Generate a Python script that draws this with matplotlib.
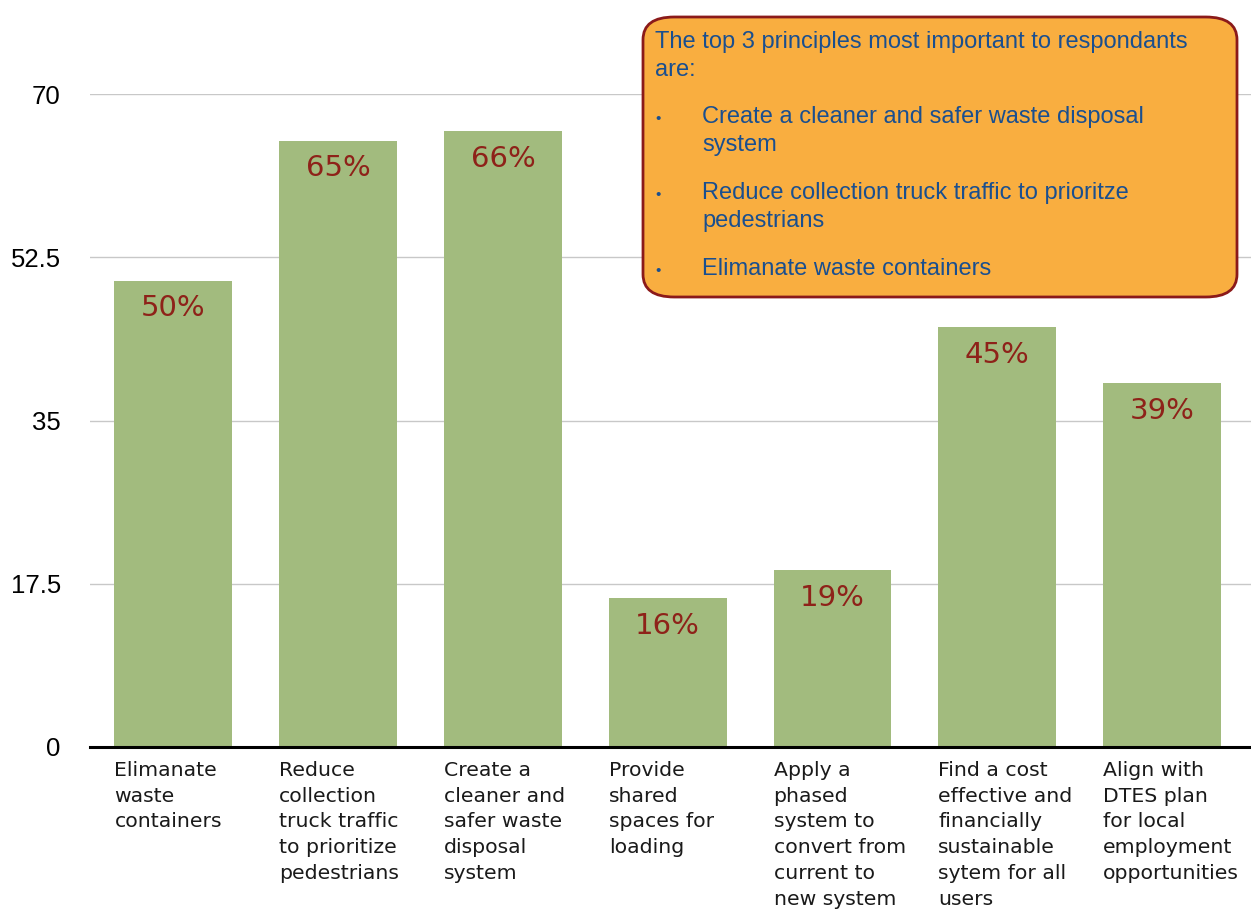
import matplotlib.pyplot as plt
from matplotlib.patches import FancyBboxPatch

# data
categories = [
    "Elimanate\nwaste\ncontainers",
    "Reduce\ncollection\ntruck traffic\nto prioritize\npedestrians",
    "Create a\ncleaner and\nsafer waste\ndisposal\nsystem",
    "Provide\nshared\nspaces for\nloading",
    "Apply a\nphased\nsystem to\nconvert from\ncurrent to\nnew system",
    "Find a cost\neffective and\nfinancially\nsustainable\nsytem for all\nusers",
    "Align with\nDTES plan\nfor local\nemployment\nopportunities",
]
values = [50, 65, 66, 16, 19, 45, 39]
y_ticks = [0, 17.5, 35, 52.5, 70]
y_tick_labels = ["0", "17.5", "35", "52.5", "70"]

note_title = "The top 3 principles most important to respondants\nare:"
note_bullets = [
    "Create a cleaner and safer waste disposal\nsystem",
    "Reduce collection truck traffic to prioritze\npedestrians",
    "Elimanate waste containers",
]

BAR_COLOR = "#A2BB7E"
PCT_COLOR = "#8E2219"
NOTE_FILL = "#F9AE40"
NOTE_EDGE = "#8B1A1A"
NOTE_TEXT = "#1A4F8F"

W, H = 1251, 910
fig = plt.figure(figsize=(W / 100, H / 100), dpi=100)
ax = fig.add_axes([90 / W, 1 - 747 / H, (W - 90) / W, (747 - 94) / H])

x = list(range(len(values)))
bar_w = 0.715
ax.bar(x, values, width=bar_w, color=BAR_COLOR, zorder=2)

ax.set_xlim(-0.506, 6.54)
ax.set_ylim(0, 70)
ax.set_yticks(y_ticks)
ax.set_yticklabels(y_tick_labels, fontsize=18.5, family="Liberation Sans")
ax.yaxis.grid(True, color="#C8C8C8", linewidth=1, zorder=0)
ax.tick_params(axis="y", length=0, pad=21)
ax.set_xticks([])
for s in ["top", "right", "left"]:
    ax.spines[s].set_visible(False)
ax.spines["bottom"].set_linewidth(2.2)
ax.spines["bottom"].set_color("black")
ax.spines["bottom"].set_zorder(3)

for i, v in enumerate(values):
    ax.annotate(f"{v}%", (i, v), xytext=(0, -20), textcoords="offset points",
                ha="center", va="center", fontsize=21, color=PCT_COLOR,
                family="DejaVu Sans", zorder=4)
    ax.annotate(categories[i], (i - bar_w / 2, 0), xytext=(0, -10),
                textcoords="offset points", ha="left", va="top",
                fontsize=14.7, family="DejaVu Sans", color="#1a1a1a",
                linespacing=1.45, annotation_clip=False)

# note box
box = FancyBboxPatch((643 / W, 1 - 297 / H), (1237 - 643) / W, (297 - 17) / H,
                     boxstyle="round,pad=0,rounding_size=0.025",
                     transform=fig.transFigure, facecolor=NOTE_FILL,
                     edgecolor=NOTE_EDGE, linewidth=2, zorder=5)
fig.patches.append(box)

fig.text(655 / W, 1 - 31 / H, note_title, ha="left", va="top", fontsize=17,
         family="Liberation Sans", color=NOTE_TEXT, linespacing=1.38, zorder=6)
bullet_y = [106, 182, 258]
for by, b in zip(bullet_y, note_bullets):
    fig.text(658 / W, 1 - (by + 13) / H, "\u2022", ha="center", va="center",
             fontsize=11, family="Liberation Sans", color=NOTE_TEXT, zorder=6)
    fig.text(702 / W, 1 - by / H, b, ha="left", va="top", fontsize=17,
             family="Liberation Sans", color=NOTE_TEXT, linespacing=1.38, zorder=6)

fig.savefig("out.png", dpi=100)
